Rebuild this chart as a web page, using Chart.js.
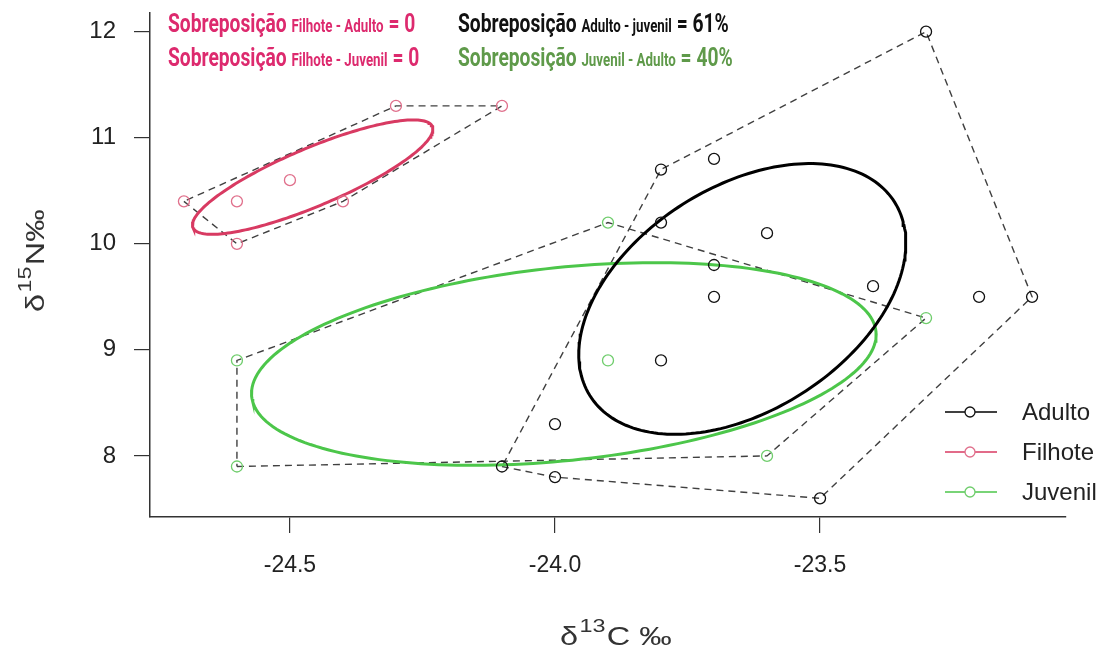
<!DOCTYPE html>
<html>
<head>
<meta charset="utf-8">
<script src="https://cdn.jsdelivr.net/npm/chart.js@4.4.1/dist/chart.umd.min.js"></script>
<style>
  body { margin: 0; background: #fff; }
  #wrap { position: relative; width: 1110px; height: 652px; }
  .ann { position: absolute; white-space: nowrap; font-family: Roboto, "Open Sans", sans-serif; font-weight: 700;
         font-size: 26px; transform: scaleX(0.74); transform-origin: left top; line-height: 1; }
  .ann .small { font-size: 18px; }
</style>
</head>
<body>
<div id="wrap">
  <canvas id="isotope-chart" width="1110" height="652"></canvas>
  <div class="ann" style="left:168px; top:10px; color:#dd2a6e;">Sobreposição <span class="small">Filhote - Adulto</span> = 0</div>
  <div class="ann" style="left:168px; top:44px; color:#dd2a6e;">Sobreposição <span class="small">Filhote - Juvenil</span> = 0</div>
  <div class="ann" style="left:458px; top:10px; color:#111;">Sobreposição <span class="small">Adulto - juvenil</span> = 61%</div>
  <div class="ann" style="left:458px; top:44px; color:#5f9a4a;">Sobreposição <span class="small">Juvenil - Adulto</span> = 40%</div>
</div>
<script>
// d13C (x) and d15N (y) per group
var adultoC  = [-23.8, -23.7, -23.8, -23.6, -23.7, -23.7, -23.4, -23.2, -23.1, -23.3, -23.8, -24.0, -24.1, -24.0, -23.5];
var adultoN  = [10.7, 10.8, 10.2, 10.1, 9.8, 9.5, 9.6, 9.5, 9.5, 12.0, 8.9, 8.3, 7.9, 7.8, 7.6];
var filhoteC = [-24.7, -24.6, -24.6, -24.5, -24.4, -24.3, -24.1];
var filhoteN = [10.4, 10.4, 10.0, 10.6, 10.4, 11.3, 11.3];
var juvenilC = [-23.9, -23.9, -24.6, -24.6, -23.6, -23.3];
var juvenilN = [10.2, 8.9, 8.9, 7.9, 8.0, 9.3];

var groups = ["Adulto", "Filhote", "Juvenil"];
var xTicks = [-24.5, -24.0, -23.5];
var yTicks = [8, 9, 10, 11, 12];

var pointColors   = ["#111111", "#e0708c", "#6fcd6c"];
var ellipseColors = ["#000000", "#d83a62", "#4cc64a"];

function toPts(xs, ys) {
    return xs.map(function (x, i) { return { x: x, y: ys[i] }; });
}

// convex hull (monotone chain)
function hull(pts) {
    var p = pts.slice().sort(function (a, b) { return a.x - b.x || a.y - b.y; });
    function cross(o, a, b) { return (a.x - o.x) * (b.y - o.y) - (a.y - o.y) * (b.x - o.x); }
    var lower = [], upper = [];
    p.forEach(function (q) {
        while (lower.length >= 2 && cross(lower[lower.length - 2], lower[lower.length - 1], q) <= 0) lower.pop();
        lower.push(q);
    });
    p.slice().reverse().forEach(function (q) {
        while (upper.length >= 2 && cross(upper[upper.length - 2], upper[upper.length - 1], q) <= 0) upper.pop();
        upper.push(q);
    });
    var h = lower.slice(0, -1).concat(upper.slice(0, -1));
    h.push(h[0]);
    return h;
}

// small sample corrected standard ellipse (SEAc) from the data covariance
function ellipse(xs, ys) {
    var n = xs.length;
    var mx = xs.reduce(function (a, b) { return a + b; }, 0) / n;
    var my = ys.reduce(function (a, b) { return a + b; }, 0) / n;
    var sxx = 0, syy = 0, sxy = 0;
    for (var i = 0; i < n; i++) {
        sxx += (xs[i] - mx) * (xs[i] - mx);
        syy += (ys[i] - my) * (ys[i] - my);
        sxy += (xs[i] - mx) * (ys[i] - my);
    }
    var k = 1 / (n - 2);
    sxx *= k; syy *= k; sxy *= k;
    var tr = sxx + syy, det = sxx * syy - sxy * sxy;
    var l1 = tr / 2 + Math.sqrt(tr * tr / 4 - det);
    var l2 = tr / 2 - Math.sqrt(tr * tr / 4 - det);
    var th = Math.atan2(l1 - sxx, sxy);
    var a = Math.sqrt(l1), b = Math.sqrt(l2);
    var out = [];
    for (var j = 0; j <= 200; j++) {
        var t = 2 * Math.PI * j / 200;
        out.push({
            x: mx + a * Math.cos(t) * Math.cos(th) - b * Math.sin(t) * Math.sin(th),
            y: my + a * Math.cos(t) * Math.sin(th) + b * Math.sin(t) * Math.cos(th)
        });
    }
    return out;
}

var allC = [adultoC, filhoteC, juvenilC];
var allN = [adultoN, filhoteN, juvenilN];

var datasets = [];
groups.forEach(function (g, i) {
    var pts = toPts(allC[i], allN[i]);
    datasets.push({
        label: g + " hull", data: hull(pts), showLine: true, borderColor: "#404040",
        borderWidth: 1.4, borderDash: [7, 5], pointRadius: 0, fill: false, order: 3
    });
    datasets.push({
        label: g + " ellipse", data: ellipse(allC[i], allN[i]), showLine: true,
        borderColor: ellipseColors[i], borderWidth: 3, pointRadius: 0, fill: false, order: 2
    });
    datasets.push({
        label: g, data: pts, showLine: false, pointRadius: 5.5, pointBorderWidth: 1.3,
        pointBorderColor: pointColors[i], pointBackgroundColor: "rgba(0,0,0,0)", order: 1
    });
});

var xmin = -24.7 - 0.064, xmax = -23.1 + 0.064;
var ymin = 7.6 - 0.176, ymax = 12.0 + 0.176;

// draws a label with a superscript, stretched like the original device text
function supText(ctx, x, y, a, sup, b) {
    ctx.save();
    ctx.translate(x, y);
    ctx.scale(1.3, 1);
    ctx.font = "25px 'Liberation Sans', Arial, sans-serif";
    ctx.fillText(a, 0, 0);
    var w1 = ctx.measureText(a).width;
    ctx.font = "18px 'Liberation Sans', Arial, sans-serif";
    ctx.fillText(sup, w1 + 1, -13);
    var w2 = ctx.measureText(sup).width;
    ctx.font = "25px 'Liberation Sans', Arial, sans-serif";
    ctx.fillText(b, w1 + w2 + 2, 0);
    ctx.restore();
}

// R style legend + axis titles
var extras = {
    id: "extras",
    afterDraw: function (chart) {
        var ctx = chart.ctx;
        ctx.save();
        ctx.font = "24px 'Liberation Sans', Arial, sans-serif";
        ctx.textBaseline = "middle";
        groups.forEach(function (g, i) {
            var y = 412 + i * 40;
            ctx.strokeStyle = ellipseColors[i];
            ctx.lineWidth = 1.6;
            ctx.beginPath(); ctx.moveTo(945, y); ctx.lineTo(997, y); ctx.stroke();
            ctx.strokeStyle = pointColors[i];
            ctx.lineWidth = 1.3;
            ctx.fillStyle = "#fff";
            ctx.beginPath(); ctx.arc(970, y, 5, 0, 2 * Math.PI); ctx.fill(); ctx.stroke();
            ctx.fillStyle = "#222";
            ctx.textAlign = "left";
            ctx.fillText(g, 1022, y + 1);
        });

        ctx.fillStyle = "#333";
        ctx.textBaseline = "alphabetic";
        supText(ctx, 560, 645, "δ", "13", "C ‰");

        ctx.translate(44, 312);
        ctx.rotate(-Math.PI / 2);
        supText(ctx, 0, 0, "δ", "15", "N‰");
        ctx.restore();
    }
};

function noPad(axis) {
    axis.paddingTop = 0; axis.paddingBottom = 0;
    axis.paddingLeft = 0; axis.paddingRight = 0;
}

new Chart(document.getElementById("isotope-chart"), {
    type: "scatter",
    data: { datasets: datasets },
    options: {
        responsive: false,
        animation: false,
        devicePixelRatio: 1,
        layout: { padding: { top: 13, right: 44, left: 0, bottom: 0 } },
        plugins: { legend: { display: false }, tooltip: { enabled: false } },
        scales: {
            x: {
                type: "linear", min: xmin, max: xmax,
                afterBuildTicks: function (axis) { axis.ticks = xTicks.map(function (v) { return { value: v }; }); },
                afterFit: function (axis) { axis.height = 135; noPad(axis); },
                ticks: {
                    color: "#222", padding: 19, maxRotation: 0,
                    font: { family: "'Liberation Sans', Arial, sans-serif", size: 23 },
                    callback: function (v) { return v.toFixed(1); }
                },
                grid: { drawOnChartArea: false, drawTicks: true, tickLength: 16, color: "#333", lineWidth: 1.2 },
                border: { display: true, color: "#333", width: 1.5 }
            },
            y: {
                type: "linear", min: ymin, max: ymax,
                afterBuildTicks: function (axis) { axis.ticks = yTicks.map(function (v) { return { value: v }; }); },
                afterFit: function (axis) { axis.width = 150; noPad(axis); },
                ticks: {
                    color: "#222", padding: 18,
                    font: { family: "'Liberation Sans', Arial, sans-serif", size: 24 },
                    callback: function (v) { return String(v); }
                },
                grid: { drawOnChartArea: false, drawTicks: true, tickLength: 16, color: "#333", lineWidth: 1.2 },
                border: { display: true, color: "#333", width: 1.5 }
            }
        }
    },
    plugins: [extras]
});
</script>
</body>
</html>
